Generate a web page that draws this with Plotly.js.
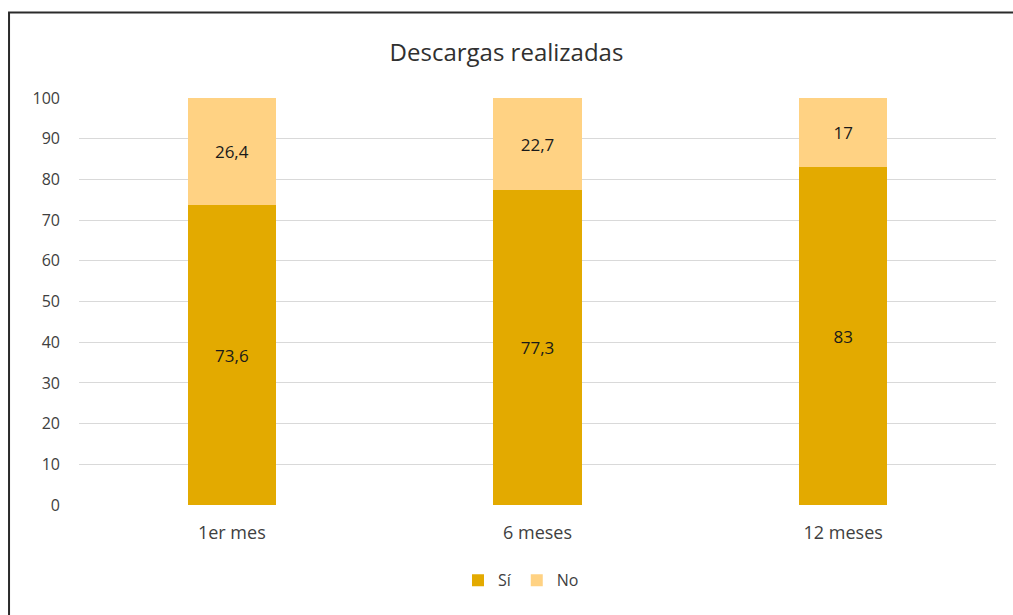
<!DOCTYPE html>
<html>
<head>
<meta charset="utf-8">
<script src="https://cdn.plot.ly/plotly-3.0.1.min.js"></script>
<style>
  html, body { margin: 0; padding: 0; background: #fff; }
  #chart { width: 1013px; height: 615px; }
</style>
</head>
<body>
<div id="chart"></div>
<script>
// Descargas realizadas: share of downloads (Sí / No) per period
const categories = ['1er mes', '6 meses', '12 meses'];
const siValues = [73.6, 77.3, 83];
const noValues = [26.4, 22.7, 17];
const yTicks = [0, 10, 20, 30, 40, 50, 60, 70, 80, 90, 100];

const fmt = v => String(v).replace('.', ',');
const FONT = '"Open Sans", Lato, sans-serif';

const traces = [
  {
    type: 'bar', name: 'Sí', x: categories, y: siValues,
    marker: { color: '#E3AA00' },
    text: siValues.map(fmt), textposition: 'inside', insidetextanchor: 'middle',
    textfont: { family: FONT, size: 17, color: '#1a1a1a' },
    hoverinfo: 'x+y+name'
  },
  {
    type: 'bar', name: 'No', x: categories, y: noValues,
    marker: { color: '#FFD283' },
    text: noValues.map(fmt), textposition: 'inside', insidetextanchor: 'middle',
    textfont: { family: FONT, size: 17, color: '#1a1a1a' },
    hoverinfo: 'x+y+name'
  }
];

const layout = {
  width: 1013, height: 615,
  margin: { l: 78.5, r: 16.5, t: 98, b: 110 },
  paper_bgcolor: '#ffffff', plot_bgcolor: '#ffffff',
  barmode: 'stack', bargap: 0.71,
  font: { family: FONT, color: '#404040' },
  title: {
    text: 'Descargas realizadas',
    font: { family: FONT, size: 24, color: '#303030' },
    x: 0.5, xanchor: 'center', y: 0.915, yanchor: 'middle'
  },
  xaxis: {
    type: 'category', showgrid: false, zeroline: false, showline: false,
    ticks: '', tickfont: { family: FONT, size: 18, color: '#404040' },
    ticklabelstandoff: 15
  },
  yaxis: {
    range: [0, 100], tickvals: yTicks, ticktext: yTicks.map(String),
    showgrid: true, gridcolor: '#d9d9d9', gridwidth: 1,
    zeroline: false, showline: false, ticks: '',
    tickfont: { family: FONT, size: 16, color: '#404040' },
    ticklabelstandoff: 18
  },
  showlegend: true,
  legend: {
    orientation: 'h', x: 0.482, xanchor: 'center', y: -0.185, yanchor: 'middle',
    font: { family: FONT, size: 16, color: '#404040' },
    itemwidth: 30, traceorder: 'normal'
  },
  shapes: [{
    type: 'rect', xref: 'paper', yref: 'paper',
    x0: -0.0763, x1: 2, y0: -1, y1: 1.21,
    line: { color: '#2b2b2b', width: 2 }, fillcolor: 'rgba(0,0,0,0)'
  }]
};

Plotly.newPlot('chart', traces, layout, { displayModeBar: false, staticPlot: true });
</script>
</body>
</html>
